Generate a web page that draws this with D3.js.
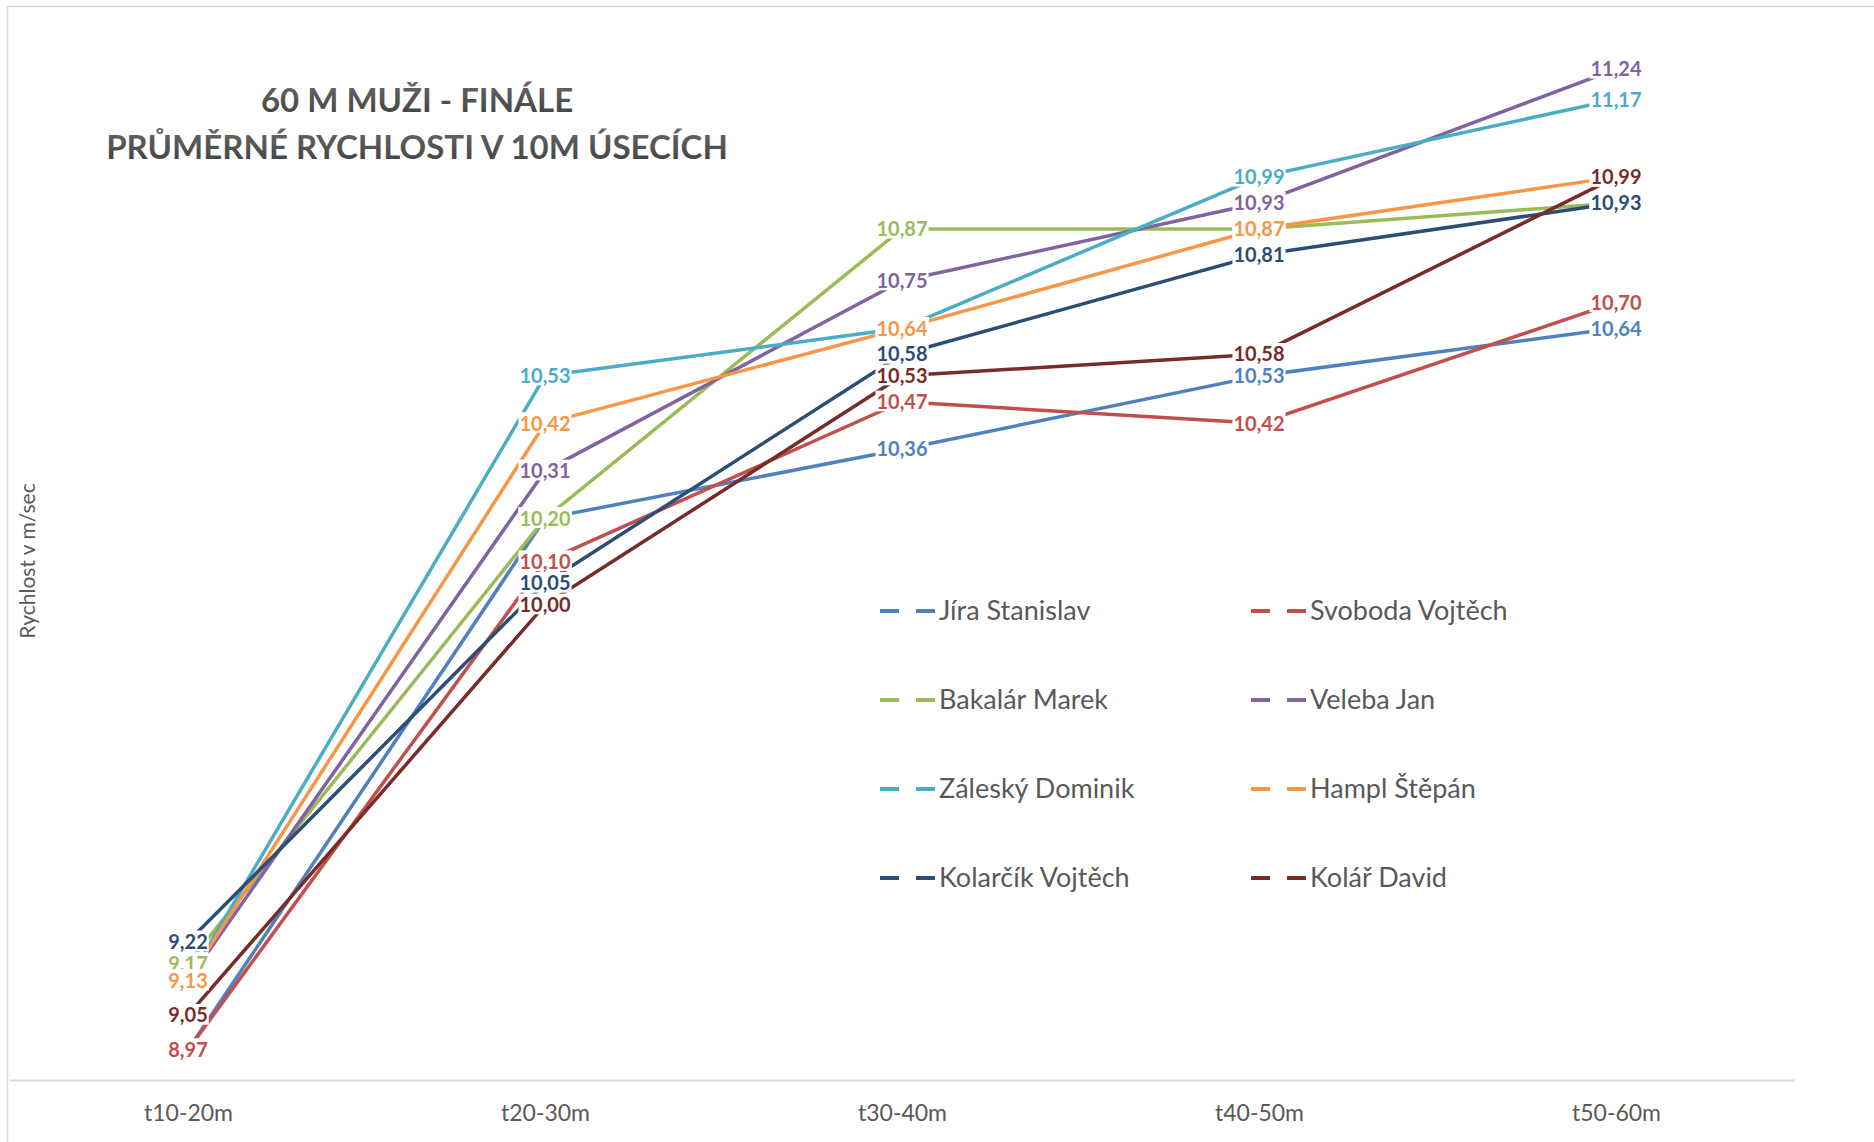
<!DOCTYPE html>
<meta charset="utf-8">
<script src="https://d3js.org/d3.v7.min.js"></script>
<style>
  body { margin: 0; background: #fff; }
  text { font-family: Lato, "Open Sans", sans-serif; }
</style>
<div id="chart"></div>
<script>
// categories (10 m sections) and runners
const categories = ["t10-20m", "t20-30m", "t30-40m", "t40-50m", "t50-60m"];
const runners = ["Jíra Stanislav", "Svoboda Vojtěch", "Bakalár Marek", "Veleba Jan",
                 "Záleský Dominik", "Hampl Štěpán", "Kolarčík Vojtěch", "Kolář David"];

// average speed in m/s per section
const jira     = [8.97, 10.20, 10.36, 10.53, 10.64];
const svoboda  = [8.97, 10.10, 10.47, 10.42, 10.70];
const bakalar  = [9.17, 10.20, 10.87, 10.87, 10.93];
const veleba   = [9.13, 10.31, 10.75, 10.93, 11.24];
const zalesky  = [9.13, 10.53, 10.64, 10.99, 11.17];
const hampl    = [9.13, 10.42, 10.64, 10.87, 10.99];
const kolarcik = [9.22, 10.05, 10.58, 10.81, 10.93];
const kolar    = [9.05, 10.00, 10.53, 10.58, 10.99];

const titleLines = ["60 M MUŽI - FINÁLE", "PRŮMĚRNÉ RYCHLOSTI V 10M ÚSECÍCH"];
const yTitle = "Rychlost v m/sec";

const COLORS = ["#4F81BD", "#C0504D", "#9BBB59", "#8064A2", "#4BACC6", "#F79646", "#2C4D75", "#772C2A"];

const series = [jira, svoboda, bakalar, veleba, zalesky, hampl, kolarcik, kolar]
    .map((values, i) => ({ name: runners[i], values: values, color: COLORS[i] }));

const W = 1874, H = 1142;
const svg = d3.select("#chart").append("svg")
    .attr("width", W)
    .attr("height", H);

svg.append("rect").attr("width", W).attr("height", H).attr("fill", "#fff");

// chart frame (cut off on the right and at the bottom)
svg.append("path")
    .attr("d", "M7.5," + H + " V6.5 H" + W)
    .attr("fill", "none")
    .attr("stroke", "#d9d9d9")
    .attr("stroke-width", 1.5);

// scales
const x = d3.scalePoint().domain(categories).range([9.5, 1794.5]).padding(0.5);
const y = d3.scaleLinear().domain([8.9, 11.4]).range([1080, 0]);

// x axis
const xAxis = svg.append("g")
    .attr("transform", "translate(0,1080)")
    .call(d3.axisBottom(x).tickSize(0).tickSizeOuter(0).tickPadding(25));
xAxis.select(".domain").attr("stroke", "#d9d9d9").attr("stroke-width", 2);
xAxis.selectAll("text")
    .attr("fill", "#595959")
    .style("font-size", "23px")
    .style("font-family", "Lato, 'Open Sans', sans-serif");

// y axis title
svg.append("text")
    .attr("transform", "translate(28,561) rotate(-90)")
    .attr("text-anchor", "middle")
    .attr("dy", "0.35em")
    .attr("fill", "#595959")
    .style("font-size", "21px")
    .text(yTitle);

// title with a light gradient
const defs = svg.append("defs");
const grad = defs.append("linearGradient").attr("id", "tgrad")
    .attr("x1", 0).attr("y1", 0).attr("x2", 0).attr("y2", 1);
grad.append("stop").attr("offset", "0%").attr("stop-color", "#6a6a6a");
grad.append("stop").attr("offset", "100%").attr("stop-color", "#3f3f3f");

titleLines.forEach((t, i) => {
    svg.append("text")
        .attr("x", 417)
        .attr("y", 100 + i * 47)
        .attr("dy", "0.36em")
        .attr("text-anchor", "middle")
        .attr("fill", "url(#tgrad)")
        .style("font-size", "33px")
        .style("font-weight", "bold")
        .text(t);
});

// lines
const line = d3.line()
    .x((d, i) => x(categories[i]))
    .y(d => y(d));

svg.append("g")
    .selectAll("path")
    .data(series)
    .enter().append("path")
    .attr("d", d => line(d.values))
    .attr("fill", "none")
    .attr("stroke", d => d.color)
    .attr("stroke-width", 3.5)
    .attr("stroke-linejoin", "round");

// data labels, centred on the points, white box hides the lines
const fmt = v => d3.format(".2f")(v).replace(".", ",");
const labels = svg.append("g");
series.forEach(s => {
    s.values.forEach((v, i) => {
        const g = labels.append("g");
        const t = g.append("text")
            .attr("x", x(categories[i]))
            .attr("y", y(v))
            .attr("dy", "0.36em")
            .attr("text-anchor", "middle")
            .attr("fill", s.color)
            .style("font-size", "20px")
            .style("font-weight", "bold")
            .text(fmt(v));
        const b = t.node().getBBox();
        g.insert("rect", "text")
            .attr("x", b.x - 1)
            .attr("y", y(v) - 11.2)
            .attr("width", b.width + 2)
            .attr("height", 20.7)
            .attr("fill", "#fff");
    });
});

// legend, two columns
const legend = svg.append("g");
series.forEach((s, i) => {
    const lx = i % 2 === 0 ? 880 : 1251;
    const ly = 611 + Math.floor(i / 2) * 89;
    legend.append("line")
        .attr("x1", lx).attr("x2", lx + 56)
        .attr("y1", ly).attr("y2", ly)
        .attr("stroke", s.color)
        .attr("stroke-width", 4)
        .attr("stroke-dasharray", "19,17");
    legend.append("text")
        .attr("x", lx + 59)
        .attr("y", ly)
        .attr("dy", "0.35em")
        .attr("fill", "#595959")
        .style("font-size", "27px")
        .text(s.name);
});
</script>
